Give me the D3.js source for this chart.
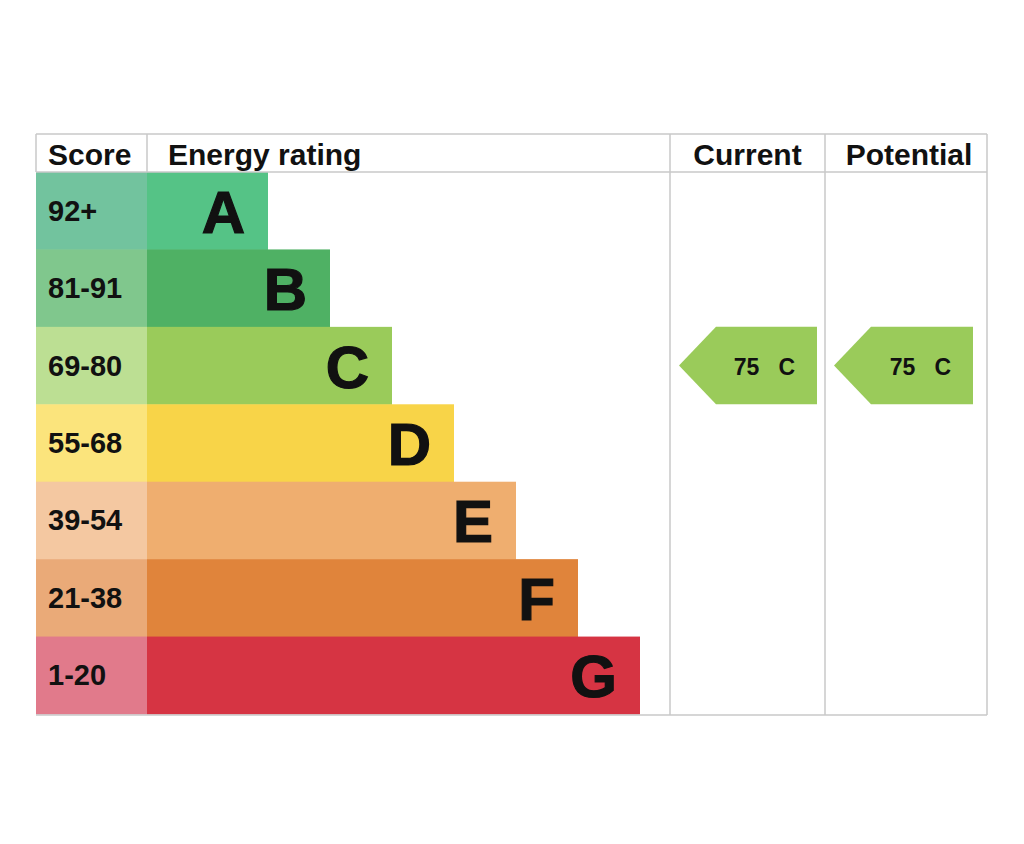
<!DOCTYPE html>
<html>
<head>
<meta charset="utf-8">
<script src="https://cdn.jsdelivr.net/npm/d3@7"></script>
<style>
  html, body { margin: 0; padding: 0; background: #fff; }
  text { font-family: "Liberation Sans", Arial, Helvetica, sans-serif; font-weight: bold; fill: #111; }
</style>
</head>
<body>
<div id="vis"></div>
<script>
// band data, top (best) to bottom (worst)
const bands = ['A', 'B', 'C', 'D', 'E', 'F', 'G']
const scoreRanges = ['92+', '81-91', '69-80', '55-68', '39-54', '21-38', '1-20']
const barColors = ['#55c386', '#4fb164', '#9acb5a', '#f8d448', '#efae6f', '#e0843b', '#d63443']
const scoreColors = ['#72c39e', '#80c78d', '#bcdf93', '#fbe47c', '#f4c8a1', '#eaaa78', '#e17a8b']
const barRank = [1, 2, 3, 4, 5, 6, 7]

const columns = ['Score', 'Energy rating', 'Current', 'Potential']
const currentScore = 75, currentBand = 'C'
const potentialScore = 75, potentialBand = 'C'

const W = 1024, H = 844
const tblLeft = 36, tblRight = 987, tblTop = 134, headH = 38, tblBottom = 715
const scoreEdge = 147, currentEdge = 670, potentialEdge = 825
const lineColor = '#c9c9c9'

const svg = d3.select('#vis')
    .append('svg')
    .attr('width', W)
    .attr('height', H)

// scales
const yScale = d3.scaleBand()
    .domain(bands)
    .range([tblTop + headH, tblBottom - 1])

const xScale = d3.scaleLinear()
    .domain([1, 7])
    .range([268, 640])   // right end of each band bar

const rows = bands.map((b, i) => ({band: b, range: scoreRanges[i], color: barColors[i], light: scoreColors[i], rank: barRank[i]}))

// score column cells
svg.selectAll('.score-cell')
    .data(rows)
    .join('rect')
    .attr('class', 'score-cell')
    .attr('x', tblLeft)
    .attr('y', d => yScale(d.band))
    .attr('width', scoreEdge - tblLeft)
    .attr('height', yScale.bandwidth() + 0.5)
    .attr('fill', d => d.light)

svg.selectAll('.score-label')
    .data(rows)
    .join('text')
    .attr('class', 'score-label')
    .attr('x', 48)
    .attr('y', d => yScale(d.band) + yScale.bandwidth() / 2 + 10)
    .attr('font-size', 29)
    .text(d => d.range)

// band bars
svg.selectAll('.bar')
    .data(rows)
    .join('rect')
    .attr('class', 'bar')
    .attr('x', scoreEdge)
    .attr('y', d => yScale(d.band))
    .attr('width', d => xScale(d.rank) - scoreEdge)
    .attr('height', yScale.bandwidth() + 0.5)
    .attr('fill', d => d.color)

svg.selectAll('.bar-letter')
    .data(rows)
    .join('text')
    .attr('class', 'bar-letter')
    .attr('x', d => xScale(d.rank) - 23)
    .attr('y', d => yScale(d.band) + yScale.bandwidth() / 2 + 22)
    .attr('text-anchor', 'end')
    .attr('font-size', 60)
    .attr('stroke', '#111')
    .attr('stroke-width', 1.2)
    .text(d => d.band)

// grid lines
const g = svg.append('g')
    .attr('stroke', lineColor)
    .attr('stroke-width', 1.5)
g.append('line').attr('x1', tblLeft).attr('x2', tblRight).attr('y1', tblTop).attr('y2', tblTop)
g.append('line').attr('x1', tblLeft).attr('x2', tblRight).attr('y1', tblTop + headH).attr('y2', tblTop + headH)
g.append('line').attr('x1', tblLeft).attr('x2', tblRight).attr('y1', tblBottom).attr('y2', tblBottom)
g.append('line').attr('x1', tblLeft).attr('x2', tblLeft).attr('y1', tblTop).attr('y2', tblTop + headH)
g.append('line').attr('x1', scoreEdge).attr('x2', scoreEdge).attr('y1', tblTop).attr('y2', tblTop + headH)
;[currentEdge, potentialEdge, tblRight].forEach(x => {
  g.append('line').attr('x1', x).attr('x2', x).attr('y1', tblTop).attr('y2', tblBottom)
})

// header text
const headX = [48, 168, (currentEdge + potentialEdge) / 2, (potentialEdge + tblRight) / 2 + 3]
svg.selectAll('.head')
    .data(columns)
    .join('text')
    .attr('class', 'head')
    .attr('x', (d, i) => headX[i])
    .attr('y', tblTop + 31)
    .attr('text-anchor', (d, i) => i < 2 ? 'start' : 'middle')
    .attr('font-size', 30)
    .text(d => d)

// rating arrows
function arrow(x0, x1, band, score, color) {
  const y0 = yScale(band), h = yScale.bandwidth(), tip = 37
  svg.append('path')
      .attr('d', `M${x0},${y0 + h / 2} L${x0 + tip},${y0} L${x1},${y0} L${x1},${y0 + h} L${x0 + tip},${y0 + h} Z`)
      .attr('fill', color)
  svg.append('text')
      .attr('x', x1 - 22)
      .attr('y', y0 + h / 2 + 9)
      .attr('text-anchor', 'end')
      .attr('font-size', 23)
      .style('white-space', 'pre')
      .text(`${score}   ${band}`)
}
const colorOf = b => barColors[bands.indexOf(b)]
arrow(679, 817, currentBand, currentScore, colorOf(currentBand))
arrow(834, 973, potentialBand, potentialScore, colorOf(potentialBand))
</script>
</body>
</html>
